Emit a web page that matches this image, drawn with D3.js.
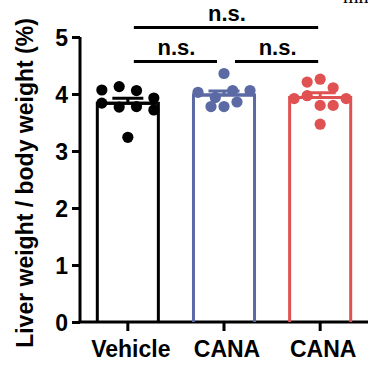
<!DOCTYPE html>
<html>
<head>
<meta charset="utf-8">
<script src="https://cdn.jsdelivr.net/npm/d3@7"></script>
<style>
  body { margin: 0; background: #fff; }
  text { font-family: "Liberation Sans", Arial, sans-serif; font-weight: bold; }
</style>
</head>
<body>
<svg width="368" height="374"></svg>
<script>
var groups = ["Vehicle", "CANA", "CANA"];
var colors = ["#000000", "#5b69a4", "#e05252"];
var vehicle = [4.07, 4.13, 4.06, 3.93, 3.84, 3.77, 3.78, 3.72, 3.24];
var cana1 = [4.36, 4.03, 3.94, 4.06, 4.06, 3.78, 3.78, 3.86];
var cana2 = [4.21, 4.26, 4.11, 3.92, 3.97, 3.80, 3.80, 3.92, 3.47];
var yTicks = [0, 1, 2, 3, 4, 5];
var comparisons = [[0, 2, "n.s."], [0, 1, "n.s."], [1, 2, "n.s."]];

var series = [vehicle, cana1, cana2];

var svg = d3.select("svg"),
    width = +svg.attr("width"),
    height = +svg.attr("height");

var x = d3.scaleBand()
    .domain(d3.range(groups.length))
    .range([80, 368])
    .paddingInner(0.365)
    .paddingOuter(0.18);

var y = d3.scaleLinear().domain([0, 5]).range([322, 37]);

var lw = 3;

// y axis
var yAxis = svg.append("g")
    .attr("transform", "translate(80,0)")
    .call(d3.axisLeft(y).tickValues(yTicks).tickSize(8).tickPadding(4).tickFormat(d3.format("d")));
yAxis.select(".domain").attr("stroke-width", lw).attr("d", "M0," + y(5) + "V" + y(0));
yAxis.selectAll(".tick line").attr("stroke-width", lw);
yAxis.selectAll(".tick text").attr("font-size", 23).attr("fill", "#000").attr("dy", "0.36em");

// x axis
var xAxis = svg.append("g")
    .attr("transform", "translate(0,322)")
    .call(d3.axisBottom(x).tickSize(9).tickSizeOuter(0).tickFormat(function(i) { return groups[i]; }));
xAxis.select(".domain").attr("stroke-width", lw).attr("d", "M78.5,0H368");
xAxis.selectAll(".tick line").attr("stroke-width", lw);
xAxis.selectAll(".tick text").attr("font-size", 23).attr("fill", "#000")
    .attr("x", 3).attr("y", 35).attr("dy", 0);

// y title
svg.append("text")
    .attr("transform", "translate(33," + 183 + ") rotate(-90)")
    .attr("text-anchor", "middle")
    .attr("font-size", 23)
    .text("Liver weight / body weight (%)");

// bars
series.forEach(function(vals, i) {
    var m = d3.mean(vals);
    var sem = d3.deviation(vals) / Math.sqrt(vals.length);
    var cx = x(i) + x.bandwidth() / 2;
    var g = svg.append("g");

    g.append("path")
        .attr("d", "M" + x(i) + "," + y(0) + "V" + y(m) + "H" + (x(i) + x.bandwidth()) + "V" + y(0))
        .attr("fill", "none")
        .attr("stroke", colors[i])
        .attr("stroke-width", lw);

    // rows of dots, spread across the bar
    var rows = [];
    vals.forEach(function(v) {
        var row = rows[rows.length - 1];
        if (!row || Math.abs(v - row[0]) > 0.2 || row.length >= 5) rows.push([v]);
        else row.push(v);
    });
    var pts = [];
    rows.forEach(function(row) {
        var n = row.length;
        var step = n >= 4 ? 52 / (n - 1) : 13;
        row.forEach(function(v, k) {
            pts.push({ x: cx + (k - (n - 1) / 2) * step, v: v });
        });
    });
    g.selectAll("circle")
        .data(pts)
        .enter().append("circle")
        .attr("cx", function(d) { return d.x; })
        .attr("cy", function(d) { return y(d.v); })
        .attr("r", 5.6)
        .attr("fill", colors[i]);

    // mean line + SEM (up)
    g.append("line")
        .attr("x1", x(i)).attr("x2", x(i) + x.bandwidth())
        .attr("y1", y(m)).attr("y2", y(m))
        .attr("stroke", colors[i]).attr("stroke-width", lw);
    g.append("path")
        .attr("d", "M" + cx + "," + y(m) + "V" + y(m + sem) + "M" + (cx - 15.5) + "," + y(m + sem) + "H" + (cx + 15.5))
        .attr("fill", "none")
        .attr("stroke", colors[i]).attr("stroke-width", lw);
});

// significance brackets
var sigY = [27.5, 61.5, 61.5];
comparisons.forEach(function(c, k) {
    var x1 = x(c[0]) + x.bandwidth() / 2 + 6;
    var x2 = x(c[1]) + x.bandwidth() / 2 - 2;
    if (k === 1) x2 = x(c[1]) + x.bandwidth() / 2 - 7;
    if (k === 2) x1 = x(c[0]) + x.bandwidth() / 2 + 11;
    svg.append("line")
        .attr("x1", x1).attr("x2", x2)
        .attr("y1", sigY[k]).attr("y2", sigY[k])
        .attr("stroke", "#000").attr("stroke-width", lw);
    svg.append("text")
        .attr("x", (x1 + x2) / 2 + 1)
        .attr("y", sigY[k] - 7)
        .attr("text-anchor", "middle")
        .attr("font-size", 22)
        .text(c[2]);
});

// clipped caption text at the top right
svg.append("text")
    .attr("x", 343).attr("y", 3)
    .style("font-family", "'Liberation Serif', serif")
    .style("font-weight", "normal")
    .attr("font-size", 20)
    .text("mm");
</script>
</body>
</html>
